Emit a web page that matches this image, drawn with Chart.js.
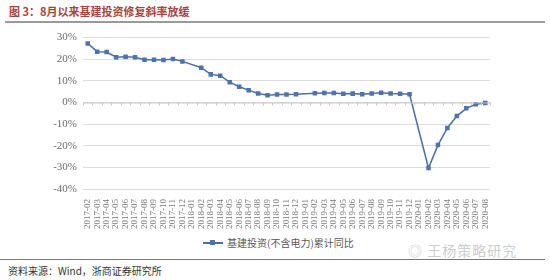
<!DOCTYPE html>
<html>
<head>
<meta charset="utf-8">
<script src="https://cdn.jsdelivr.net/npm/chart.js@4/dist/chart.umd.min.js"></script>
<style>
  body { margin: 0; width: 550px; height: 280px; background: #fff; position: relative; overflow: hidden; font-family: "Noto Sans CJK SC", sans-serif; }
  #title { position: absolute; left: 9px; top: 3px; font-size: 11px; font-weight: bold; color: #a8433b; }
  #topRule { position: absolute; left: 5px; top: 21px; width: 540px; height: 2px; background: #9a9a9a; }
  #wrap { position: absolute; left: 0; top: 25px; width: 550px; height: 210px; }
  #legend { position: absolute; left: 203px; top: 235px; font-size: 10px; color: #595959; display: flex; align-items: center; }
  #legend .ln { width: 20px; height: 2px; background: #4a6ea8; position: relative; margin-right: 4px; }
  #legend .ln i { position: absolute; left: 7px; top: -2px; width: 5px; height: 5px; background: #4f72aa; }
  #mark { position: absolute; left: 408px; top: 240px; font-size: 14px; color: #cdcdcd; letter-spacing: 1px; }
  #bottomRule { position: absolute; left: 0; top: 259px; width: 545px; height: 1px; background: #777; }
  #source { position: absolute; left: 8px; top: 263px; font-size: 10px; color: #333; }
</style>
</head>
<body>
<div id="title">图 3：8月以来基建投资修复斜率放缓</div>
<div id="topRule"></div>
<div id="wrap"><canvas id="chart" width="550" height="210"></canvas></div>
<div id="legend"><span class="ln"><i></i></span>基建投资(不含电力)累计同比</div>
<div id="mark">◎ 王杨策略研究</div>
<div id="bottomRule"></div>
<div id="source">资料来源：Wind，浙商证券研究所</div>
<script>
const months = [
    "2017-02", "2017-03", "2017-04", "2017-05", "2017-06", "2017-07", "2017-08", "2017-09", "2017-10", "2017-11", "2017-12",
    "2018-01", "2018-02", "2018-03", "2018-04", "2018-05", "2018-06", "2018-07", "2018-08", "2018-09", "2018-10", "2018-11", "2018-12",
    "2019-01", "2019-02", "2019-03", "2019-04", "2019-05", "2019-06", "2019-07", "2019-08", "2019-09", "2019-10", "2019-11", "2019-12",
    "2020-01", "2020-02", "2020-03", "2020-04", "2020-05", "2020-06", "2020-07", "2020-08"
];
// January values are not published (Jan-Feb combined), so they stay empty
const infraYoY = [
    27.3, 23.5, 23.3, 20.9, 21.1, 20.9, 19.8, 19.8, 19.6, 20.1, 19.0,
    null, 16.1, 13.0, 12.4, 9.4, 7.3, 5.7, 4.2, 3.3, 3.7, 3.7, 3.8,
    null, 4.3, 4.4, 4.4, 4.0, 4.1, 3.8, 4.2, 4.5, 4.2, 4.0, 3.8,
    null, -30.3, -19.7, -11.8, -6.3, -2.7, -0.8, -0.2
];
const yTicks = [30, 20, 10, 0, -10, -20, -30, -40];

// zero line with small category tick marks
const zeroAxis = {
    id: "zeroAxis",
    afterDatasetsDraw(chart) {
        const { ctx, scales: { x, y }, chartArea } = chart;
        const y0 = y.getPixelForValue(0);
        ctx.save();
        ctx.strokeStyle = "#c8c8c8";
        ctx.lineWidth = 1;
        ctx.beginPath();
        ctx.moveTo(chartArea.left, y0 + 0.5);
        ctx.lineTo(chartArea.right, y0 + 0.5);
        for (let i = 0; i <= months.length; i++) {
            const px = Math.round(x.getPixelForValue(i) - (x.getPixelForValue(1) - x.getPixelForValue(0)) / 2) + 0.5;
            ctx.moveTo(px, y0);
            ctx.lineTo(px, y0 + 3);
        }
        ctx.stroke();
        ctx.restore();
    }
};

new Chart(document.getElementById("chart").getContext("2d"), {
    type: "line",
    data: {
        labels: months,
        datasets: [{
            label: "基建投资(不含电力)累计同比",
            data: infraYoY,
            borderColor: "#4a6ea8",
            backgroundColor: "#4f72aa",
            borderWidth: 1.5,
            pointStyle: "rect",
            pointRadius: 3.2,
            pointBorderWidth: 0,
            spanGaps: true,
            tension: 0
        }]
    },
    options: {
        responsive: false,
        animation: false,
        layout: { padding: { top: 11, right: 60, bottom: 0, left: 0 } },
        plugins: {
            legend: { display: false },
            tooltip: { enabled: false }
        },
        scales: {
            x: {
                offset: true,
                grid: { display: false },
                border: { display: false },
                ticks: {
                    autoSkip: false,
                    minRotation: 90,
                    maxRotation: 90,
                    padding: 2,
                    color: "#7a7a7a",
                    font: { family: "Liberation Serif", size: 9 }
                },
                afterFit(scale) { scale.height = 46; }
            },
            y: {
                min: -40,
                max: 30,
                afterBuildTicks(scale) { scale.ticks = yTicks.map(v => ({ value: v })); },
                grid: { color: "#dcdcdc", drawTicks: false },
                border: { display: false },
                ticks: {
                    padding: 6,
                    color: "#6b6b6b",
                    font: { family: "Liberation Serif", size: 11 },
                    callback: v => v + "%"
                },
                afterFit(scale) { scale.width = 83; }
            }
        }
    },
    plugins: [zeroAxis]
});
</script>
</body>
</html>
